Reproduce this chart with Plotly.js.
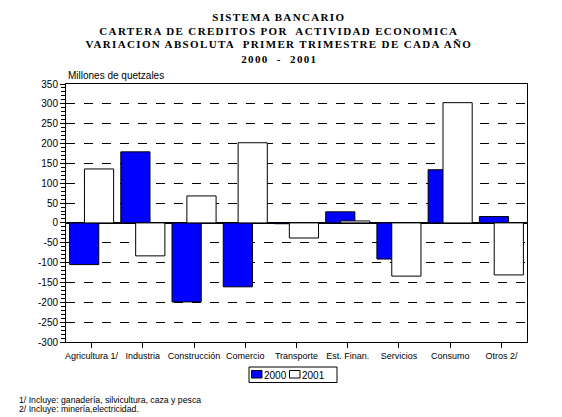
<!DOCTYPE html>
<html>
<head>
<meta charset="utf-8">
<script src="https://cdn.plot.ly/plotly-3.0.1.min.js"></script>
<style>
html,body{margin:0;padding:0;background:#fff;}
#chart{width:562px;height:417px;}
.annotation[data-index="0"] text,
.annotation[data-index="1"] text,
.annotation[data-index="2"] text,
.annotation[data-index="3"] text{letter-spacing:1.35px;}
</style>
</head>
<body>
<div id="chart"></div>
<script>
const categories = ["Agricultura 1/", "Industria", "Construcción", "Comercio", "Transporte", "Est. Finan.", "Servicios", "Consumo", "Otros 2/"];
const values2000 = [-105, 179, -199, -161, -2, 28, -91, 134, 16];
const values2001 = [136, -83, 68, 202, -38, 5, -134, 303, -131];
const seriesNames = ["2000", "2001"];
const seriesColors = ["#0000FF", "#FFFFFF"];
const yTickVals = [-300,-250,-200,-150,-100,-50,0,50,100,150,200,250,300,350];
const titleLines = ["SISTEMA BANCARIO", "CARTERA DE CREDITOS POR  ACTIVIDAD ECONOMICA", "VARIACION ABSOLUTA  PRIMER TRIMESTRE DE CADA AÑO", "2000  -  2001"];
const footnotes = ["1/ Incluye: ganadería, silvicultura, caza y pesca", "2/ Incluye: minería,electricidad."];
const yAxisLabel = "Millones de quetzales";

// plot area in pixels
const L = 66, R = 35, T = 84, B = 75, W = 562, H = 417;
const pw = W - L - R, ph = H - T - B;
const px = p => (p - L) / pw;
const py = p => (H - B - p) / ph;

const traces = [
  {
    type: 'bar', name: seriesNames[0], x: categories, y: values2000,
    width: 0.57, offset: -0.43,
    marker: {color: seriesColors[0], line: {color: '#000000', width: 1}},
    hoverinfo: 'skip'
  },
  {
    type: 'bar', name: seriesNames[1], x: categories, y: values2001,
    width: 0.57, offset: -0.14,
    marker: {color: seriesColors[1], line: {color: '#000000', width: 1}},
    hoverinfo: 'skip'
  }
];

const titleY = [16.5, 31, 44.5, 58.5];
const annotations = titleLines.map((t, i) => ({
  text: '<b>' + t + '</b>', xref: 'paper', yref: 'paper', x: px(279), y: py(titleY[i]),
  xanchor: 'center', yanchor: 'middle', showarrow: false,
  font: {family: 'Liberation Serif, Times New Roman, serif', size: 11, color: '#000'}
}));
annotations.push({text: yAxisLabel, xref: 'paper', yref: 'paper', x: 0, y: 1, xanchor: 'left', yanchor: 'bottom', yshift: 1, showarrow: false, font: {size: 10}});
footnotes.forEach((f, i) => annotations.push({
  text: f, xref: 'paper', yref: 'paper', x: px(17), y: py([400, 408.5][i]),
  xanchor: 'left', yanchor: 'middle', showarrow: false, font: {size: 8.7}
}));
// manual legend text
annotations.push({text: seriesNames[0], xref: 'paper', yref: 'paper', x: px(262.5), y: py(375), xanchor: 'left', yanchor: 'middle', showarrow: false, font: {size: 10}, borderpad: 0});
annotations.push({text: seriesNames[1], xref: 'paper', yref: 'paper', x: px(300.5), y: py(375), xanchor: 'left', yanchor: 'middle', showarrow: false, font: {size: 10}, borderpad: 0});

const shapes = [
  {type: 'rect', xref: 'paper', yref: 'paper', x0: px(249), x1: px(337), y0: py(367), y1: py(382.5), line: {color: '#000', width: 1}, fillcolor: '#fff', layer: 'above'},
  {type: 'rect', xref: 'paper', yref: 'paper', x0: px(251.5), x1: px(262), y0: py(370.5), y1: py(378), line: {color: '#000', width: 1}, fillcolor: seriesColors[0], layer: 'above'},
  {type: 'rect', xref: 'paper', yref: 'paper', x0: px(289.5), x1: px(300), y0: py(370.5), y1: py(378), line: {color: '#000', width: 1}, fillcolor: seriesColors[1], layer: 'above'}
];

const layout = {
  width: W, height: H,
  paper_bgcolor: '#fff', plot_bgcolor: '#fff',
  margin: {l: L, r: R, t: T, b: B, pad: 0},
  barmode: 'overlay',
  showlegend: false,
  font: {family: 'Liberation Sans, Arial, sans-serif', color: '#000', size: 9},
  xaxis: {
    type: 'category',
    showline: true, mirror: true, linecolor: '#000', linewidth: 1,
    ticks: 'outside', ticklen: 5, tickcolor: '#000',
    showgrid: false, zeroline: false,
    tickfont: {size: 9, family: 'Liberation Sans, Arial, sans-serif'},
    fixedrange: true
  },
  yaxis: {
    range: [-300, 350],
    tickvals: yTickVals, ticktext: yTickVals.map(String),
    showline: true, mirror: true, linecolor: '#000', linewidth: 1,
    ticks: 'outside', ticklen: 5, tickcolor: '#000',
    minor: {dtick: 10, tick0: 0, ticks: 'outside', ticklen: 4, tickcolor: '#000', showgrid: false},
    showgrid: true, gridcolor: '#000', griddash: 'dash', gridwidth: 1,
    zeroline: true, zerolinecolor: '#000', zerolinewidth: 1.5,
    tickfont: {size: 10, family: 'Liberation Sans, Arial, sans-serif'},
    fixedrange: true
  },
  annotations: annotations,
  shapes: shapes
};

Plotly.newPlot('chart', traces, layout, {displayModeBar: false, staticPlot: true});
</script>
</body>
</html>
